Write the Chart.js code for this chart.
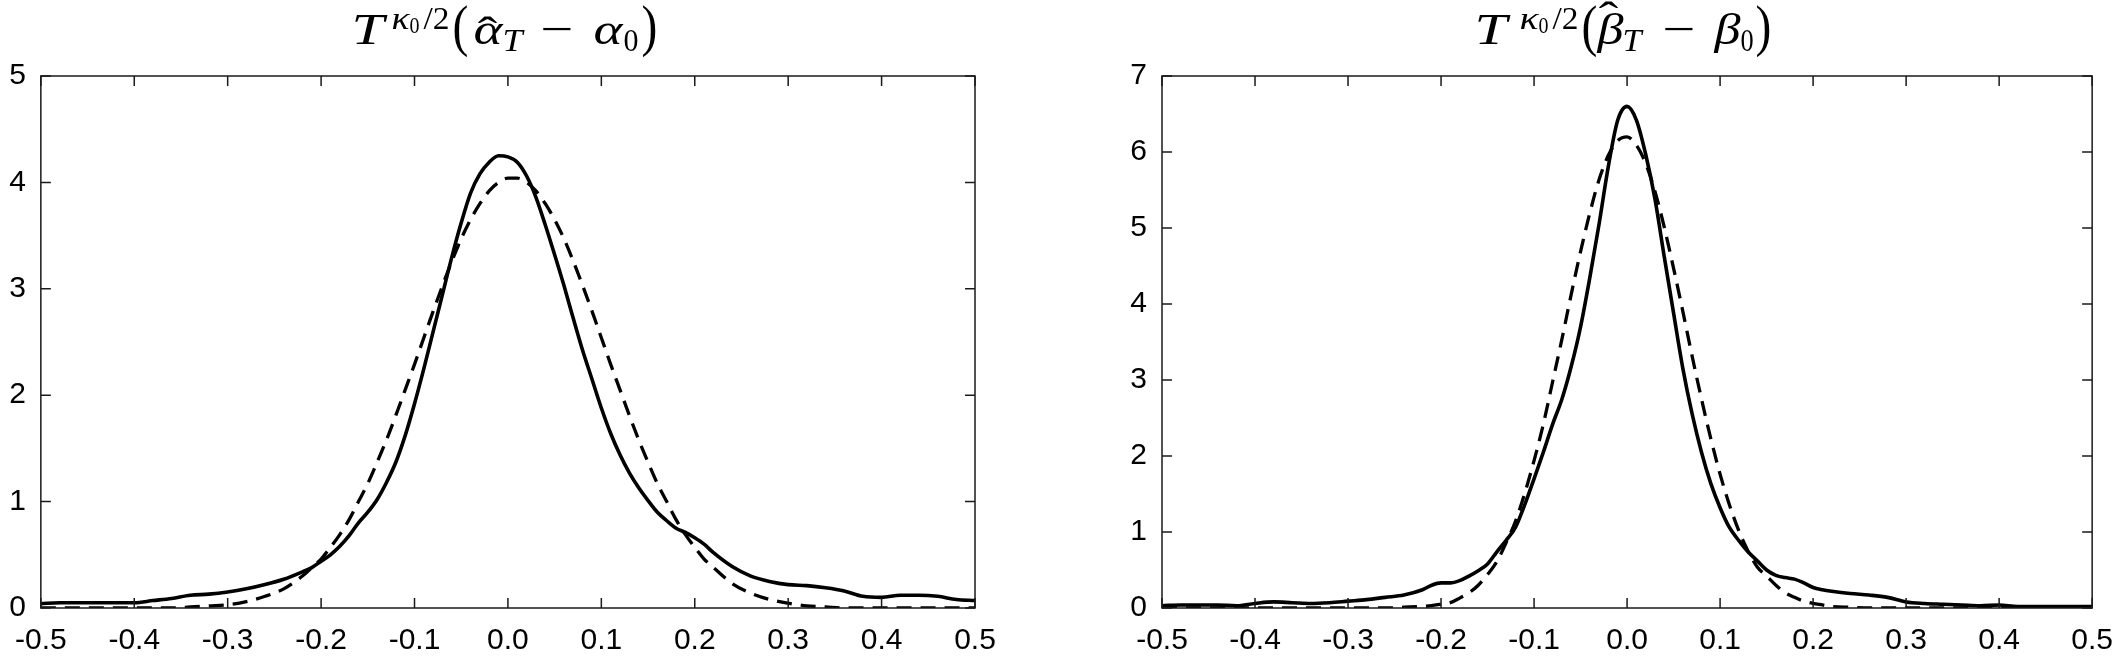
<!DOCTYPE html>
<html>
<head>
<meta charset="utf-8">
<script src="https://cdn.jsdelivr.net/npm/chart.js@4.4.1/dist/chart.umd.min.js"></script>
<style>
  html, body { margin: 0; padding: 0; background: #fff; }
  #wrap { position: relative; width: 2128px; height: 657px; }
  canvas { position: absolute; top: 0; }
</style>
</head>
<body>
<div id="wrap">
  <canvas id="alphaChart" width="1064" height="657" style="left:0"></canvas>
  <canvas id="betaChart" width="1064" height="657" style="left:1064px"></canvas>
</div>
<script>
// x grid shared by both panels (coarser in the tails)
var grid = [-0.5, -0.48, -0.46, -0.44, -0.42, -0.4, -0.38, -0.36, -0.34, -0.32, -0.3, -0.28, -0.26, -0.24, -0.22,
  -0.21, -0.2, -0.19, -0.18, -0.17, -0.16, -0.15, -0.14, -0.13, -0.12, -0.11, -0.1, -0.09, -0.08, -0.07, -0.06,
  -0.05, -0.04, -0.03, -0.02, -0.01, 0, 0.01, 0.02, 0.03, 0.04, 0.05, 0.06, 0.07, 0.08, 0.09, 0.1,
  0.11, 0.12, 0.13, 0.14, 0.15, 0.16, 0.17, 0.18, 0.19, 0.2, 0.21,
  0.22, 0.24, 0.26, 0.28, 0.3, 0.32, 0.34, 0.36, 0.38, 0.4, 0.42, 0.44, 0.46, 0.48, 0.5];

// left panel: alpha
var alphaKde = [0.04, 0.05, 0.05, 0.05, 0.05, 0.05, 0.07, 0.09, 0.12, 0.13, 0.15, 0.18, 0.22, 0.27, 0.34,
  0.38, 0.44, 0.50, 0.58, 0.68, 0.80, 0.90, 1.02, 1.18, 1.37, 1.62, 1.92, 2.25, 2.6, 2.95, 3.3,
  3.62, 3.9, 4.08, 4.19, 4.25, 4.24, 4.19, 4.06, 3.86, 3.6, 3.32, 3.03, 2.72, 2.42, 2.15, 1.88,
  1.64, 1.44, 1.27, 1.13, 1.01, 0.9, 0.82, 0.75, 0.71, 0.66, 0.6,
  0.52, 0.39, 0.3, 0.25, 0.22, 0.21, 0.19, 0.16, 0.11, 0.1, 0.12, 0.12, 0.11, 0.08, 0.07];
var alphaNormal = [0, 0, 0, 0, 0, 0, 0, 0, 0.01, 0.02, 0.03, 0.06, 0.11, 0.18, 0.30,
  0.38, 0.46, 0.57, 0.69, 0.83, 1.0, 1.17, 1.37, 1.58, 1.81, 2.05, 2.29, 2.54, 2.79, 3.03, 3.26,
  3.47, 3.65, 3.8, 3.92, 4.0, 4.04, 4.04, 4.0, 3.92, 3.8, 3.65, 3.47, 3.26, 3.03, 2.79, 2.54,
  2.29, 2.05, 1.81, 1.58, 1.37, 1.17, 1.0, 0.83, 0.69, 0.57, 0.46,
  0.38, 0.23, 0.14, 0.08, 0.045, 0.02, 0.01, 0, 0, 0, 0, 0, 0, 0, 0];

// right panel: beta
var betaKde = [0.03, 0.04, 0.04, 0.04, 0.03, 0.06, 0.08, 0.07, 0.06, 0.07, 0.09, 0.11, 0.14, 0.17, 0.24,
  0.3, 0.33, 0.33, 0.36, 0.42, 0.49, 0.58, 0.74, 0.89, 1.06, 1.36, 1.7, 2.05, 2.42, 2.75, 3.18,
  3.7, 4.35, 5.06, 5.82, 6.42, 6.6, 6.42, 5.97, 5.38, 4.62, 3.88, 3.15, 2.55, 2.05, 1.64, 1.32,
  1.06, 0.89, 0.74, 0.62, 0.5, 0.43, 0.4, 0.38, 0.33, 0.27, 0.24,
  0.22, 0.19, 0.17, 0.14, 0.08, 0.06, 0.05, 0.04, 0.03, 0.04, 0.02, 0.02, 0.02, 0.02, 0.02];
var betaNormal = [0, 0, 0, 0, 0, 0, 0, 0, 0, 0, 0, 0, 0, 0.01, 0.02,
  0.03, 0.05, 0.07, 0.13, 0.2, 0.3, 0.44, 0.61, 0.86, 1.14, 1.51, 1.94, 2.42, 2.98, 3.54, 4.13,
  4.69, 5.2, 5.64, 5.96, 6.15, 6.2, 6.09, 5.85, 5.48, 5.01, 4.47, 3.9, 3.31, 2.75, 2.23, 1.76,
  1.36, 1.02, 0.75, 0.54, 0.42, 0.3, 0.2, 0.14, 0.09, 0.06, 0.04,
  0.02, 0.01, 0, 0, 0, 0, 0, 0, 0, 0, 0, 0, 0, 0, 0];

var xTickValues = [-0.5, -0.4, -0.3, -0.2, -0.1, 0, 0.1, 0.2, 0.3, 0.4, 0.5];
var xTickLabels = ['-0.5', '-0.4', '-0.3', '-0.2', '-0.1', '0.0', '0.1', '0.2', '0.3', '0.4', '0.5'];
var alphaYTicks = [0, 1, 2, 3, 4, 5];
var betaYTicks = [0, 1, 2, 3, 4, 5, 6, 7];

// title pieces: T^{kappa_0/2}( hat alpha_T - alpha_0 )
// at = offset from the start of the formula, w = width the piece should take
var alphaTitle = [
  { text: 'T', size: 45, italic: true, dy: 0, at: 0, w: 36 },
  { text: 'κ', size: 31, italic: true, dy: -15, at: 40, w: 18 },
  { text: '0', size: 23, dy: -11, at: 58, w: 10 },
  { text: '/2', size: 31, dy: -15, at: 72, w: 26 },
  { text: '(', size: 56, dy: 1, at: 101, w: 15 },
  { text: 'α', size: 45, italic: true, dy: 0, at: 122, w: 29, hat: 3, hatAt: 136 },
  { text: 'T', size: 31, italic: true, dy: 7, at: 151, w: 20 },
  { text: '−', size: 45, dy: 0, at: 189, w: 33 },
  { text: 'α', size: 45, italic: true, dy: 0, at: 242, w: 29 },
  { text: '0', size: 31, dy: 7, at: 272, w: 15 },
  { text: ')', size: 56, dy: 1, at: 290, w: 15 }
];
var alphaTitleWidth = 305;
var betaTitle = [
  { text: 'T', size: 45, italic: true, dy: 0, at: 0, w: 38 },
  { text: 'κ', size: 31, italic: true, dy: -15, at: 45, w: 19 },
  { text: '0', size: 23, dy: -11, at: 64, w: 10 },
  { text: '/2', size: 31, dy: -15, at: 78, w: 26 },
  { text: '(', size: 56, dy: 1, at: 107, w: 14 },
  { text: 'β', size: 45, italic: true, dy: 0, at: 123, w: 26, hat: -12, hatAt: 134 },
  { text: 'T', size: 31, italic: true, dy: 7, at: 148, w: 19 },
  { text: '−', size: 45, dy: 0, at: 188, w: 33 },
  { text: 'β', size: 45, italic: true, dy: 0, at: 240, w: 26 },
  { text: '0', size: 31, dy: 7, at: 266, w: 13 },
  { text: ')', size: 56, dy: 1, at: 281, w: 14 }
];
var betaTitleWidth = 295;

var serif = '"Liberation Serif", "DejaVu Serif", serif';
function mathFont(p) { return (p.italic ? 'italic ' : '') + p.size + 'px ' + serif; }

// frame round the plot with ticks pointing inwards on all four sides
var boxPlugin = {
  id: 'boxTicks',
  afterDatasetsDraw: function (chart) {
    var ctx = chart.ctx, a = chart.chartArea, sx = chart.scales.x, sy = chart.scales.y;
    var len = 10;
    ctx.save();
    ctx.strokeStyle = '#1a1a1a';
    ctx.lineWidth = 1.5;
    ctx.strokeRect(a.left, a.top, a.right - a.left, a.bottom - a.top);
    ctx.beginPath();
    sx.ticks.forEach(function (t) {
      var px = sx.getPixelForValue(t.value);
      ctx.moveTo(px, a.bottom); ctx.lineTo(px, a.bottom - len);
      ctx.moveTo(px, a.top); ctx.lineTo(px, a.top + len);
    });
    sy.ticks.forEach(function (t) {
      var py = sy.getPixelForValue(t.value);
      ctx.moveTo(a.left, py); ctx.lineTo(a.left + len, py);
      ctx.moveTo(a.right, py); ctx.lineTo(a.right - len, py);
    });
    ctx.stroke();
    ctx.restore();
  }
};

// formula title drawn piece by piece
var mathTitlePlugin = {
  id: 'mathTitle',
  afterDraw: function (chart, args, opts) {
    var ctx = chart.ctx, a = chart.chartArea;
    ctx.save();
    ctx.fillStyle = '#000';
    ctx.textBaseline = 'alphabetic';
    var x0 = (a.left + a.right) / 2 - opts.width / 2 + opts.shift;
    var base = opts.baseline;
    opts.parts.forEach(function (p) {
      ctx.font = mathFont(p);
      var mw = ctx.measureText(p.text).width;
      var k = Math.max(0.85, Math.min(1.3, p.w / mw));
      ctx.save();
      ctx.translate(x0 + p.at, base + p.dy);
      ctx.scale(k, 1);
      ctx.fillText(p.text, 0, 0);
      ctx.restore();
      if (p.hat !== undefined) {
        ctx.font = p.size + 'px ' + serif;
        var hw = ctx.measureText('ˆ').width;
        ctx.save();
        ctx.translate(x0 + p.hatAt, base + p.hat);
        ctx.scale(1.3, 1);
        ctx.fillText('ˆ', -hw / 2, 0);
        ctx.restore();
      }
    });
    ctx.restore();
  }
};

function points(ys) {
  return grid.map(function (x, i) { return { x: x, y: ys[i] }; });
}

function makeChart(id, kde, normal, yTicks, title, titleWidth, layout) {
  return new Chart(document.getElementById(id), {
    type: 'line',
    data: {
      datasets: [{
        label: 'kernel',
        data: points(kde),
        borderColor: '#000',
        borderWidth: 3.6,
        pointRadius: 0,
        cubicInterpolationMode: 'monotone',
        fill: false
      },
      {
        label: 'normal',
        data: points(normal),
        borderColor: '#000',
        borderWidth: 3.3,
        borderDash: [15, 9],
        pointRadius: 0,
        cubicInterpolationMode: 'monotone',
        fill: false
      }]
    },
    plugins: [boxPlugin, mathTitlePlugin],
    options: {
      responsive: false,
      animation: false,
      devicePixelRatio: 1,
      layout: { padding: { top: 76, right: layout.right, bottom: 0, left: 0 } },
      plugins: {
        legend: { display: false },
        tooltip: { enabled: false },
        mathTitle: { parts: title, width: titleWidth, baseline: 44, shift: layout.titleShift }
      },
      scales: {
        x: {
          type: 'linear',
          min: -0.5,
          max: 0.5,
          grid: { display: false, drawTicks: false },
          border: { display: false },
          afterBuildTicks: function (s) { s.ticks = xTickValues.map(function (v) { return { value: v }; }); },
          afterFit: function (s) { s.height = 49; },
          ticks: {
            autoSkip: false,
            maxRotation: 0,
            padding: 15,
            color: '#000',
            font: { family: '"Liberation Sans", Arial, sans-serif', size: 30 },
            callback: function (v, i) { return xTickLabels[i]; }
          }
        },
        y: {
          type: 'linear',
          min: 0,
          max: yTicks[yTicks.length - 1],
          grid: { display: false, drawTicks: false },
          border: { display: false },
          afterBuildTicks: function (s) { s.ticks = yTicks.map(function (v) { return { value: v }; }); },
          afterFit: function (s) { s.width = layout.left; },
          ticks: {
            padding: 15,
            color: '#000',
            font: { family: '"Liberation Sans", Arial, sans-serif', size: 30 },
            callback: function (v) { return String(v); }
          }
        }
      }
    }
  });
}

makeChart('alphaChart', alphaKde, alphaNormal, alphaYTicks, alphaTitle, alphaTitleWidth, { left: 32, right: 89, titleShift: -4 });
makeChart('betaChart', betaKde, betaNormal, betaYTicks, betaTitle, betaTitleWidth, { left: 98, right: 26, titleShift: -5 });
</script>
</body>
</html>
